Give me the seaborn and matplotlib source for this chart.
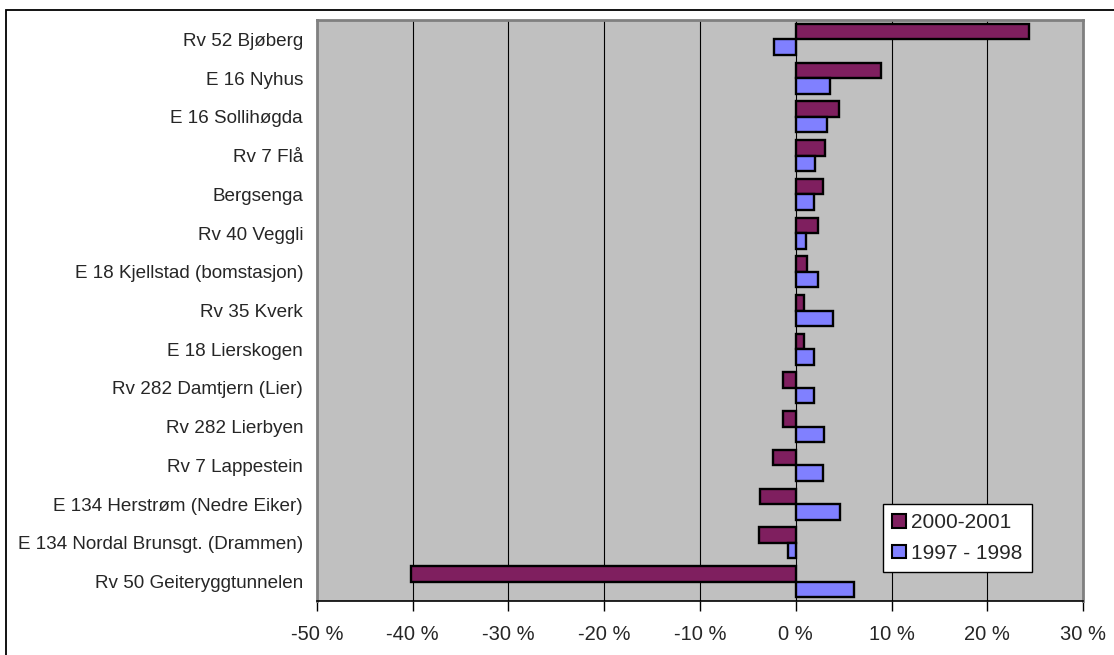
import matplotlib
matplotlib.use("Agg")
import matplotlib.pyplot as plt
from matplotlib.patches import Patch, Rectangle
from matplotlib.ticker import FuncFormatter
import pandas as pd
import seaborn as sns

# Traffic change per counting station (percent)
stations = [
    "Rv 52 Bjøberg",
    "E 16 Nyhus",
    "E 16 Sollihøgda",
    "Rv 7 Flå",
    "Bergsenga",
    "Rv 40 Veggli",
    "E 18 Kjellstad (bomstasjon)",
    "Rv 35 Kverk",
    "E 18 Lierskogen",
    "Rv 282 Damtjern (Lier)",
    "Rv 282 Lierbyen",
    "Rv 7 Lappestein",
    "E 134 Herstrøm (Nedre Eiker)",
    "E 134 Nordal Brunsgt. (Drammen)",
    "Rv 50 Geiteryggtunnelen",
]
change_2000_2001 = [24.4, 8.9, 4.5, 3.1, 2.8, 2.3, 1.2, 0.9, 0.9, -1.3, -1.3, -2.4, -3.7, -3.8, -40.2]
change_1997_1998 = [-2.3, 3.6, 3.3, 2.0, 1.9, 1.1, 2.3, 3.9, 1.9, 1.9, 3.0, 2.8, 4.6, -0.85, 6.1]
series_names = ["2000-2001", "1997 - 1998"]
series_colors = ["#7F1F5F", "#8080FF"]
x_ticks = list(range(-50, 31, 10))

df = pd.DataFrame({
    "station": stations * 2,
    "change": change_2000_2001 + change_1997_1998,
    "period": [series_names[0]] * len(stations) + [series_names[1]] * len(stations),
})

sns.set_style("white")
plt.rcParams["font.family"] = ["Liberation Sans", "DejaVu Sans"]

fig = plt.figure(figsize=(11.14, 6.55), dpi=100, facecolor="white")
W, H = 1114, 655
ax = fig.add_axes([317 / W, 1 - 601 / H, (1083 - 317) / W, (601 - 20) / H])
ax.set_facecolor("#C0C0C0")

sns.barplot(
    data=df, y="station", x="change", hue="period",
    order=stations, hue_order=series_names, palette=series_colors,
    orient="h", width=0.8, edgecolor="black", linewidth=1.7,
    saturation=1, legend=False, ax=ax,
)

ax.set_xlim(x_ticks[0], x_ticks[-1])
ax.set_ylim(len(stations) - 0.5, -0.5)
ax.set_xticks(x_ticks)
ax.xaxis.set_major_formatter(FuncFormatter(lambda v, _: f"{int(round(v))} %"))
ax.set_xlabel("")
ax.set_ylabel("")

ax.set_axisbelow(True)
ax.grid(axis="x", color="black", linewidth=0.8)
ax.grid(axis="y", visible=False)

for side in ("left", "top", "right"):
    ax.spines[side].set_color("#808080")
    ax.spines[side].set_linewidth(2)
ax.spines["bottom"].set_color("black")
ax.spines["bottom"].set_linewidth(1.2)

ax.tick_params(axis="x", direction="out", length=7, width=1, color="black",
               labelsize=14.5, pad=10, bottom=True)
ax.tick_params(axis="y", length=0, labelsize=13.55, pad=10)

handles = [Patch(facecolor=c, edgecolor="black", linewidth=1.5) for c in series_colors]
leg = ax.legend(
    handles, series_names, loc="upper left",
    bbox_to_anchor=(883 / W, 1 - 504 / H), bbox_transform=fig.transFigure,
    fontsize=15, frameon=True, fancybox=False, framealpha=1,
    edgecolor="black", borderaxespad=0, handlelength=0.65, handleheight=0.65,
    handletextpad=0.25, labelspacing=0.55, borderpad=0.45,
)
leg.get_frame().set_linewidth(1)
leg.get_frame().set_facecolor("white")

# Outer chart border
fig.add_artist(Rectangle((6 / W, -0.1), 1.2, 1 - 10 / H + 0.1, fill=False,
                         edgecolor="black", linewidth=1.3, transform=fig.transFigure))

fig.savefig("out.png", dpi=100, facecolor="white")
